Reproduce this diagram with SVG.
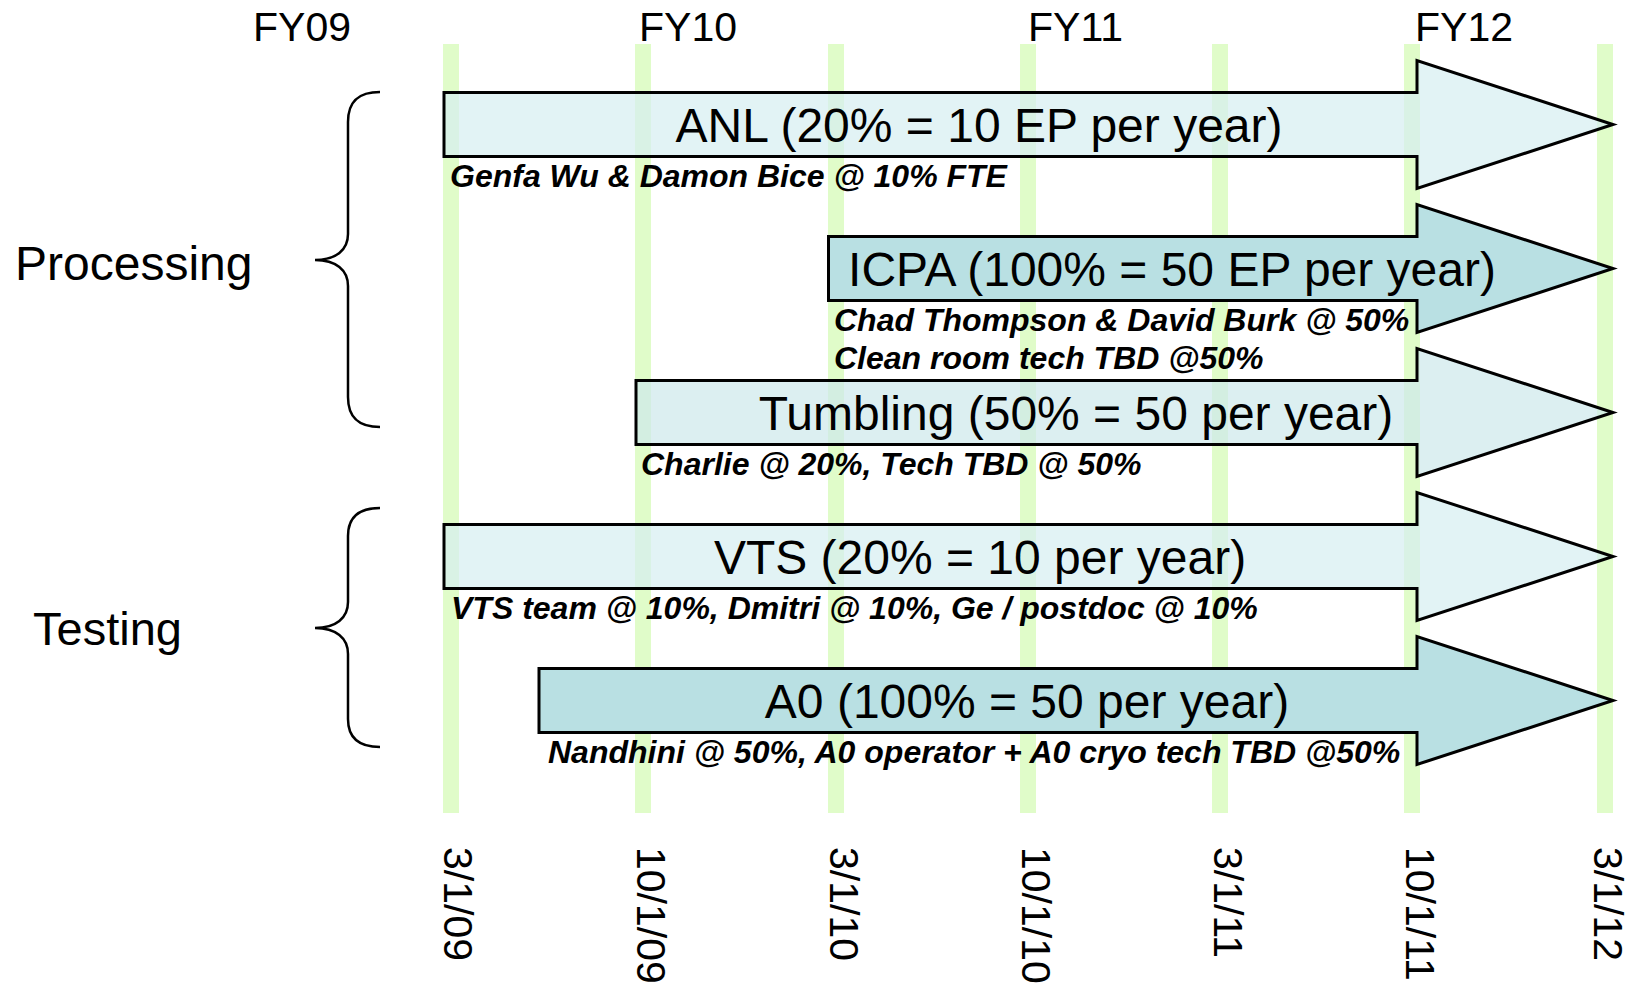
<svg xmlns="http://www.w3.org/2000/svg" width="1632" height="988" viewBox="0 0 1632 988">
<style>
.bar{fill:#e0fcc9}
.arrow{stroke:#000;stroke-width:3;stroke-linejoin:miter}
.light{fill:#d6eef1;fill-opacity:0.7}
.tumb{fill:#cde8eb;fill-opacity:0.7}
.solid{fill:#b9e0e3}
.main{font-family:"Liberation Sans",Arial,sans-serif;font-size:48px;fill:#000;text-anchor:middle}
.sub{font-family:"Liberation Sans",Arial,sans-serif;font-size:32px;font-weight:bold;font-style:italic;fill:#000}
.fy{font-family:"Liberation Sans",Arial,sans-serif;font-size:41px;fill:#000}
.date{font-family:"Liberation Sans",Arial,sans-serif;font-size:41px;fill:#000}
.cat{font-family:"Liberation Sans",Arial,sans-serif;fill:#000}
.brace{fill:none;stroke:#000;stroke-width:2.5}
</style>
<rect width="1632" height="988" fill="#fff"/>
<g id="gridlines">
<rect class="bar" x="443" y="44" width="16" height="769"/>
<rect class="bar" x="635" y="44" width="16" height="769"/>
<rect class="bar" x="828" y="44" width="16" height="769"/>
<rect class="bar" x="1020" y="44" width="16" height="769"/>
<rect class="bar" x="1212" y="44" width="16" height="769"/>
<rect class="bar" x="1404" y="44" width="16" height="769"/>
<rect class="bar" x="1597" y="44" width="16" height="769"/>
</g>
<g id="fy-labels">
<text class="fy" x="253" y="41">FY09</text>
<text class="fy" x="639" y="41">FY10</text>
<text class="fy" x="1028" y="41">FY11</text>
<text class="fy" x="1415" y="41">FY12</text>
</g>
<g id="date-labels">
<text class="date" transform="translate(444,847) rotate(90)">3/1/09</text>
<text class="date" transform="translate(637,847) rotate(90)">10/1/09</text>
<text class="date" transform="translate(830,847) rotate(90)">3/1/10</text>
<text class="date" transform="translate(1022,847) rotate(90)">10/1/10</text>
<text class="date" transform="translate(1214,847) rotate(90)">3/1/11</text>
<text class="date" transform="translate(1406,847) rotate(90)">10/1/11</text>
<text class="date" transform="translate(1594,847) rotate(90)">3/1/12</text>
</g>
<g id="processing">
<path class="brace" d="M380,92 C360,92 348,100 348,122 L348,234 C348,250 336,260 315,260 C336,260 348,270 348,286 L348,397 C348,419 360,427 380,427"/>
<text class="cat" x="15" y="280" font-size="48">Processing</text>
</g>
<g id="testing">
<path class="brace" d="M380,508 C360,508 348,516 348,536 L348,602 C348,618 336,628 315,628 C336,628 348,638 348,654 L348,719 C348,739 360,747 380,747"/>
<text class="cat" x="33" y="645" font-size="47">Testing</text>
</g>
<g id="anl">
<path class="arrow light" d="M444,92.5 H1417 V60.5 L1613,124.5 L1417,188.5 V156.5 H444 Z"/>
<text class="main" x="979" y="142">ANL (20% = 10 EP per year)</text>
<text class="sub" x="450" y="187">Genfa Wu &amp; Damon Bice @ 10% FTE</text>
</g>
<g id="icpa">
<path class="arrow solid" d="M828.5,236.5 H1417 V204.5 L1613,268.5 L1417,332.5 V300.5 H828.5 Z"/>
<text class="main" x="1172" y="286">ICPA (100% = 50 EP per year)</text>
<text class="sub" x="834" y="331">Chad Thompson &amp; David Burk @ 50%</text>
<text class="sub" x="834" y="369">Clean room tech TBD @50%</text>
</g>
<g id="tumbling">
<path class="arrow tumb" d="M636,380.5 H1417 V348.5 L1613,412.5 L1417,476.5 V444.5 H636 Z"/>
<text class="main" x="1076" y="430">Tumbling (50% = 50 per year)</text>
<text class="sub" x="641" y="475">Charlie @ 20%, Tech TBD @ 50%</text>
</g>
<g id="vts">
<path class="arrow light" d="M444,524.5 H1417 V492.5 L1613,556.5 L1417,620.5 V588.5 H444 Z"/>
<text class="main" x="980" y="574">VTS (20% = 10 per year)</text>
<text class="sub" x="451" y="619">VTS team @ 10%, Dmitri @ 10%, Ge / postdoc @ 10%</text>
</g>
<g id="a0">
<path class="arrow solid" d="M539,668.5 H1417 V636.5 L1613,700.5 L1417,764.5 V732.5 H539 Z"/>
<text class="main" x="1027" y="718">A0 (100% = 50 per year)</text>
<text class="sub" x="548" y="763">Nandhini @ 50%, A0 operator + A0 cryo tech TBD @50%</text>
</g>
<g id="connectors"></g>
</svg>
